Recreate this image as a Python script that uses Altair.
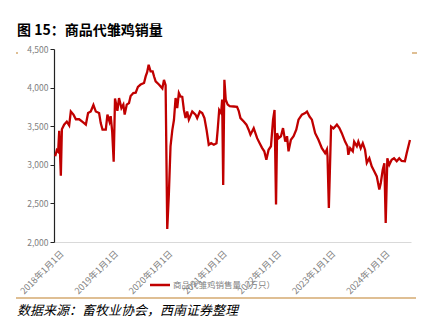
import altair as alt
import pandas as pd

dates = [
    "2018-01-09","2018-01-20","2018-01-29","2018-02-05","2018-02-16","2018-02-23","2018-03-10","2018-03-28",
    "2018-04-13","2018-04-24","2018-05-12","2018-05-28","2018-06-19","2018-07-12","2018-08-03","2018-08-18",
    "2018-09-05","2018-09-23","2018-10-09","2018-10-31","2018-11-11","2018-11-23","2018-12-15","2018-12-26",
    "2019-01-09","2019-01-17","2019-01-27","2019-02-06","2019-02-15","2019-03-03","2019-03-14","2019-03-30",
    "2019-04-12","2019-04-21","2019-05-05","2019-05-20","2019-05-31","2019-06-18","2019-07-04","2019-07-19",
    "2019-08-06","2019-08-29","2019-09-09","2019-09-19","2019-09-29","2019-10-12","2019-10-26","2019-11-05",
    "2019-11-15","2019-12-07","2019-12-30","2020-01-10","2020-01-21","2020-02-01","2020-02-12","2020-02-23",
    "2020-03-06","2020-03-17","2020-03-28","2020-04-08","2020-04-19","2020-04-30","2020-05-12","2020-05-23",
    "2020-06-03","2020-06-14","2020-06-25","2020-07-18","2020-08-09","2020-08-20","2020-09-07","2020-09-23",
    "2020-10-08","2020-10-22","2020-11-06","2020-11-22","2020-12-10","2020-12-28","2021-01-05","2021-01-15",
    "2021-01-28","2021-02-04","2021-02-11","2021-02-19","2021-02-28","2021-03-13","2021-03-27","2021-04-23",
    "2021-05-15","2021-05-26","2021-06-07","2021-06-29","2021-07-17","2021-08-01","2021-08-13","2021-09-04",
    "2021-09-27","2021-10-14","2021-10-30","2021-11-14","2021-11-28","2021-12-13","2021-12-29","2022-01-12",
    "2022-01-22","2022-02-01","2022-02-08","2022-02-18","2022-03-06","2022-03-20","2022-04-04","2022-04-16",
    "2022-04-26","2022-05-12","2022-05-30","2022-06-17","2022-07-02","2022-07-25","2022-08-16","2022-08-28",
    "2022-09-14","2022-09-30","2022-10-22","2022-11-13","2022-12-06","2022-12-28","2023-01-09","2023-01-13",
    "2023-01-22","2023-02-06","2023-02-22","2023-03-17","2023-04-03","2023-04-19","2023-05-11","2023-05-27",
    "2023-06-02","2023-06-14","2023-07-02","2023-07-11","2023-07-29","2023-08-08","2023-08-24","2023-09-07",
    "2023-09-22","2023-10-04","2023-10-21","2023-11-06","2023-11-22","2023-12-10","2023-12-27","2024-01-06",
    "2024-01-19","2024-01-30","2024-02-08","2024-02-19","2024-03-03","2024-03-19","2024-04-04","2024-04-22",
    "2024-05-09","2024-05-25","2024-06-16","2024-06-28","2024-07-20",
]
values = [
    3110,3190,3170,3440,2860,3460,3520,3560,
    3510,3690,3650,3590,3590,3555,3520,3670,
    3690,3775,3690,3670,3540,3455,3455,3650,
    3560,3630,3430,3040,3860,3700,3865,3735,
    3780,3650,3780,3800,3890,3930,3935,4010,
    4040,4060,4145,4200,4296,4210,4210,4140,
    4080,4040,3990,4100,4030,2170,2630,3240,
    3450,3580,3865,3735,3930,3885,3880,3710,
    3605,3690,3585,3690,3650,3605,3690,3670,
    3605,3455,3260,3280,3260,3280,3455,3710,
    3670,3845,2740,4100,3845,3780,3760,3755,
    3750,3700,3605,3560,3520,3455,3390,3475,
    3345,3280,3220,3175,3065,3195,3240,3585,
    3710,2485,3410,3345,3370,3475,3300,3370,
    3175,3325,3370,3455,3585,3650,3670,3690,
    3625,3585,3410,3325,3215,3150,3200,3110,
    2440,3495,3470,3520,3475,3410,3300,3240,
    3130,3215,3175,3300,3240,3300,3215,3280,
    3195,3025,3085,2980,2920,2850,2680,2765,
    2935,3020,2245,3085,3000,3065,3085,3045,
    3085,3050,3045,3150,3320,
]
year_ticks = [2018, 2019, 2020, 2021, 2022, 2023, 2024]
y_ticks = [2000, 2500, 3000, 3500, 4000, 4500]
title_text = "图 15：商品代雏鸡销量"
series_name = "商品代雏鸡销售量（万只）"
source_text = "数据来源：畜牧业协会，西南证券整理"

df = pd.DataFrame({"date": pd.to_datetime(dates), "value": values})
one = pd.DataFrame({"k": [0]})

RED = "#C00000"
TAN = "#D4AA70"
GREY = "#808080"
FONT = "Noto Sans CJK SC"

line = alt.Chart(df).mark_line(color=RED, strokeWidth=2.3).encode(
    x=alt.X(
        "date:T",
        scale=alt.Scale(domain=[alt.DateTime(year=2018, month=1, date=1),
                                alt.DateTime(year=2024, month=7, date=27)]),
        axis=alt.Axis(
            title=None,
            values=[alt.DateTime(year=y, month=1, date=1) for y in year_ticks],
            labelExpr="timeFormat(datum.value, '%Y') + '年1月1日'",
            labelAngle=-45, labelAlign="right", labelBaseline="top",
            labelFontSize=9, labelColor=GREY, labelFont=FONT,
            labelOffset=5, labelPadding=7,
            ticks=False, domainColor="#D9D9D9", domainWidth=1, grid=False,
        ),
    ),
    y=alt.Y(
        "value:Q",
        scale=alt.Scale(domain=[2000, 4500], nice=False, zero=False),
        axis=alt.Axis(
            title=None, values=y_ticks, format=",.0f",
            labelFontSize=8.5, labelColor=GREY, labelFont=FONT,
            tickColor="#222", tickSize=4, domainColor="#222", domainWidth=1.2,
            grid=False, labelPadding=2,
        ),
    ),
)

title = alt.Chart(one).mark_text(
    text=title_text, align="left", baseline="middle", fontSize=14,
    fontWeight="bold", font=FONT, color="#000",
).encode(x=alt.value(-37), y=alt.value(-18))

source = alt.Chart(one).mark_text(
    text=source_text, align="left", baseline="middle", fontSize=13,
    fontStyle="italic", font=FONT, color="#000",
).encode(x=alt.value(-37), y=alt.value(262))

tan_line = alt.Chart(one).mark_rule(color=TAN, strokeWidth=1.5).encode(
    x=alt.value(-38), x2=alt.value(362), y=alt.value(249))
tan_left = alt.Chart(one).mark_rule(color=TAN, strokeWidth=1.5).encode(
    x=alt.value(-38), x2=alt.value(-36), y=alt.value(4))
tan_right = alt.Chart(one).mark_rule(color=TAN, strokeWidth=1.5).encode(
    x=alt.value(358), x2=alt.value(363), y=alt.value(4))

leg_line = alt.Chart(one).mark_rule(color=RED, strokeWidth=2.5).encode(
    x=alt.value(96), x2=alt.value(116), y=alt.value(236))
leg_text = alt.Chart(one).mark_text(
    text=series_name, align="left", baseline="middle", fontSize=8.5,
    font=FONT, color=GREY,
).encode(x=alt.value(119), y=alt.value(236))

chart = alt.layer(
    line, title, source, tan_line, tan_left, tan_right, leg_line, leg_text
).properties(
    width=357, height=193,
    autosize=alt.AutoSizeParams(type="none"),
    padding={"left": 54, "top": 49, "right": 19, "bottom": 86},
    background="white",
).configure_view(stroke=None)

chart.save("out.html", embed_options={"renderer": "svg", "actions": False})
